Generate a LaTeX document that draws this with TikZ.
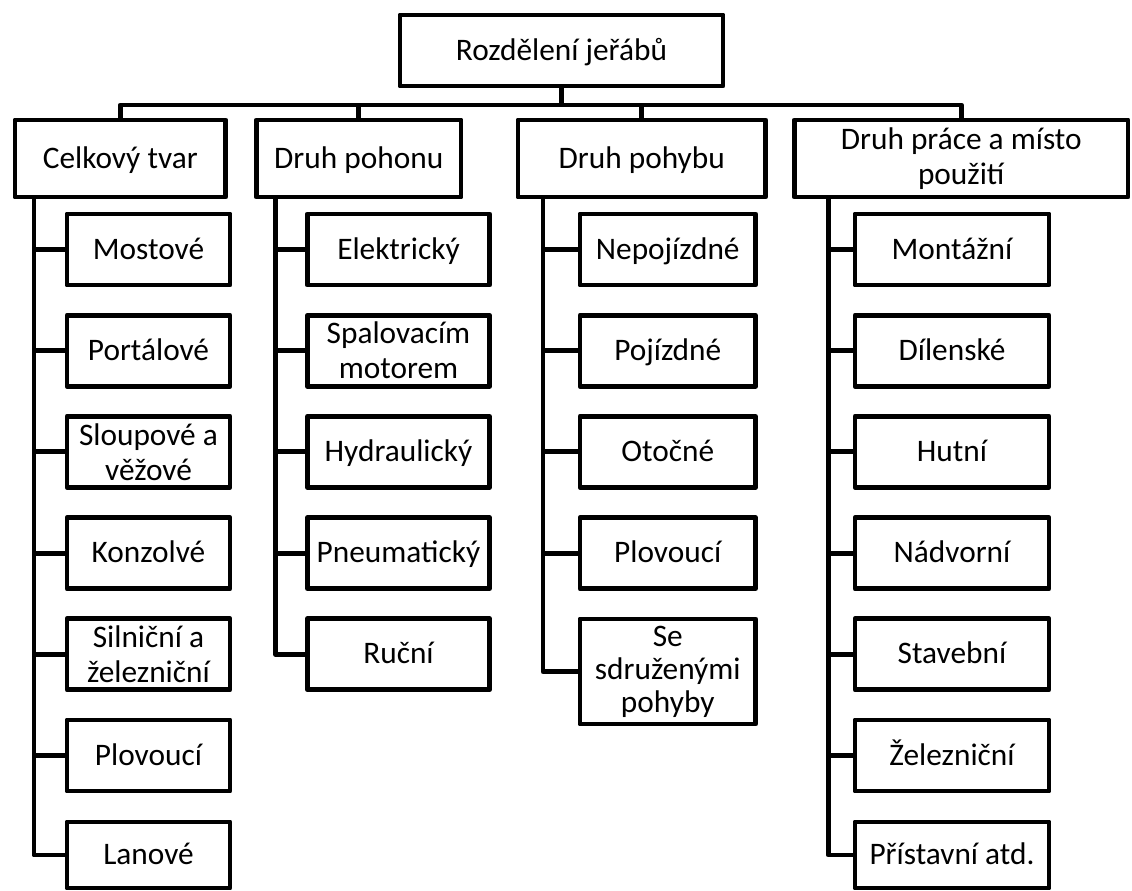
\documentclass[tikz,border=0pt]{standalone}
\usepackage{fontspec}
\setmainfont{Carlito}
\begin{document}
\begin{tikzpicture}[x=0.75pt,y=-0.75pt,
  box/.style={draw=black, line width=3.7pt, line join=round, inner sep=0pt, align=center,
    font=\fontsize{23.5}{24.75}\selectfont},
  one/.style={text height=14.25pt, text depth=0pt},
  rootbox/.style={box, one, minimum width=242.25pt, minimum height=53.25pt},
  catbox/.style={box, minimum height=57.75pt},
  leafA/.style={box, minimum width=122.25pt, minimum height=53.25pt},
  leafB/.style={box, minimum width=136.5pt, minimum height=53.25pt},
  leafC/.style={box, minimum width=131.6pt, minimum height=53.25pt},
  leafD/.style={box, minimum width=145.5pt, minimum height=53.25pt},
  link/.style={draw=black, line width=3.7pt, line join=round}]
\useasboundingbox (0,0) rectangle (1132,890);

% root
\node[rootbox] (root) at (561.5,50.5) {Rozdělení jeřábů};
\coordinate (bus) at (561.5,105);

% categories
\node[catbox, one, minimum width=157.9pt] (c1) at (120.25,158.5) {Celkový tvar};
\node[catbox, one, minimum width=153.4pt] (c2) at (358.75,158.5) {Druh pohonu};
\node[catbox, one, minimum width=185.6pt] (c3) at (641.75,158.5) {Druh pohybu};
\node[catbox, minimum width=250.1pt] (c4) at (961.25,158.5) {Druh práce a místo\\[1pt]použití};

% column spine x positions
\coordinate (v1) at (34,0);
\coordinate (v2) at (275.5,0);
\coordinate (v3) at (543,0);
\coordinate (v4) at (828.5,0);

% column 1
\node[leafA, one] (a1) at (148.5,249.5) {Mostové};
\node[leafA, one] (a2) at (148.5,350.7) {Portálové};
\node[leafA] (a3) at (148.5,451.9) {Sloupové a\\[1.5pt]věžové};
\node[leafA, one] (a4) at (148.5,553.1) {Konzolvé};
\node[leafA] (a5) at (148.5,654.3) {Silniční a\\[1.5pt]železniční};
\node[leafA, one] (a6) at (148.5,755.5) {Plovoucí};
\node[leafA, one, minimum height=49.5pt] (a7) at (148.5,855) {Lanové};

% column 2
\node[leafB, one] (b1) at (398.5,249.5) {Elektrický};
\node[leafB] (b2) at (398.5,350.7) {Spalovacím\\[1.5pt]motorem};
\node[leafB, one] (b3) at (398.5,451.9) {Hydraulický};
\node[leafB, one] (b4) at (398.5,553.1) {Pneumatický};
\node[leafB, one] (b5) at (398.5,654.3) {Ruční};

% column 3
\node[leafC, one] (d1) at (667.75,249.5) {Nepojízdné};
\node[leafC, one] (d2) at (667.75,350.7) {Pojízdné};
\node[leafC, one] (d3) at (667.75,451.9) {Otočné};
\node[leafC, one] (d4) at (667.75,553.1) {Plovoucí};
\node[leafC, minimum height=78.75pt] (d5) at (667.75,671.5) {Se\\sdruženými\\pohyby};

% column 4
\node[leafD, one] (e1) at (952,249.5) {Montážní};
\node[leafD, one] (e2) at (952,350.7) {Dílenské};
\node[leafD, one] (e3) at (952,451.9) {Hutní};
\node[leafD, one] (e4) at (952,553.1) {Nádvorní};
\node[leafD, one] (e5) at (952,654.3) {Stavební};
\node[leafD, one] (e6) at (952,755.5) {Železniční};
\node[leafD, one, minimum height=49.5pt] (e7) at (952,855) {Přístavní atd.};

% root to categories
\draw[link] (root.south) -- (bus);
\foreach \c in {c1,c2,c3,c4} \draw[link] (bus) -| (\c.north);

% categories to leaves
\foreach \l in {a1,a2,a3,a4,a5,a6,a7} \draw[link] (c1.south -| v1) |- (\l.west);
\foreach \l in {b1,b2,b3,b4,b5} \draw[link] (c2.south -| v2) |- (\l.west);
\foreach \l in {d1,d2,d3,d4,d5} \draw[link] (c3.south -| v3) |- (\l.west);
\foreach \l in {e1,e2,e3,e4,e5,e6,e7} \draw[link] (c4.south -| v4) |- (\l.west);
\end{tikzpicture}
\end{document}
